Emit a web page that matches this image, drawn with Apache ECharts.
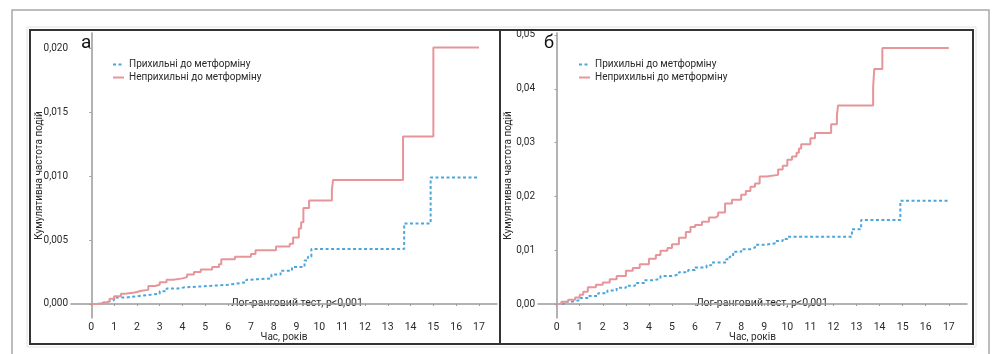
<!DOCTYPE html>
<html><head><meta charset="utf-8">
<script src="https://cdn.jsdelivr.net/npm/echarts@6/dist/echarts.min.js"></script>
<style>html,body{margin:0;padding:0;background:#fff}#c{width:999px;height:354px}</style>
</head><body><div id="c"></div>
<script>
// ---- data ----
const xTicks = [0,1,2,3,4,5,6,7,8,9,10,11,12,13,14,15,16,17];
const yTicksA = [0,0.005,0.010,0.015,0.020];
const yTicksB = [0,0.01,0.02,0.03,0.04,0.05];
const seriesNames = ['Прихильні до метформіну','Неприхильні до метформіну'];
const aAdherent = [[0,0],[0.3,0.0001],[0.5,0.0002],[0.8,0.0003],[1.0,0.0005],[1.5,0.0006],[2.0,0.0007],[2.5,0.0008],[3.0,0.001],[3.3,0.0012],[3.8,0.0013],[4.1,0.0014],[5.1,0.0015],[6.0,0.0016],[6.4,0.0017],[6.8,0.0019],[7.0,0.002],[7.9,0.0023],[8.3,0.0026],[8.8,0.0029],[9.35,0.0034],[9.5,0.0037],[9.65,0.0043],[13.72,0.0063],[14.88,0.0099],[17,0.0099]];
const aNonAdherent = [[0,0],[0.3,0.0001],[0.6,0.0002],[0.8,0.0004],[1.0,0.0006],[1.3,0.0008],[1.5,0.0009],[1.9,0.00103],[2.2,0.0011],[2.5,0.0014],[2.8,0.0015],[3.0,0.0017],[3.3,0.0019],[3.6,0.002],[4.0,0.0021],[4.2,0.0023],[4.5,0.0025],[4.8,0.0027],[5.3,0.0029],[5.6,0.0031],[5.7,0.0035],[6.3,0.0037],[7.0,0.0039],[7.2,0.0042],[8.1,0.0045],[8.7,0.0047],[8.85,0.0052],[9.1,0.0059],[9.2,0.0064],[9.3,0.0075],[9.55,0.0081],[10.55,0.0089],[10.6,0.0097],[13.67,0.0131],[15.0,0.02006],[17,0.02006]];
const bAdherent = [[0,0],[0.3,0.0004],[0.6,0.0007],[1.0,0.0011],[1.4,0.0015],[1.8,0.002],[2.2,0.0025],[2.6,0.003],[3.0,0.0034],[3.4,0.0039],[3.8,0.0044],[4.2,0.0047],[4.5,0.0052],[5.0,0.0055],[5.3,0.0059],[5.7,0.0063],[6.0,0.0068],[6.5,0.0072],[6.7,0.0077],[7.35,0.0083],[7.5,0.0088],[7.65,0.0097],[8.0,0.0102],[8.4,0.0105],[8.6,0.011],[9.0,0.0113],[9.5,0.0117],[9.8,0.0121],[10.0,0.0125],[12.8,0.0139],[13.2,0.0156],[14.9,0.0192],[17,0.0192]];
const bNonAdherent = [[0,0],[0.2,0.0004],[0.5,0.0008],[0.8,0.0012],[1.0,0.0017],[1.15,0.0023],[1.35,0.0031],[1.7,0.0036],[2.0,0.004],[2.3,0.0046],[2.6,0.0052],[3.0,0.0062],[3.3,0.0067],[3.6,0.0074],[4.0,0.0084],[4.3,0.0091],[4.5,0.0099],[4.8,0.0104],[5.0,0.0111],[5.3,0.0123],[5.6,0.0134],[5.8,0.0143],[6.0,0.0147],[6.3,0.0153],[6.6,0.0161],[6.9,0.0164],[7.0,0.017],[7.3,0.0187],[7.6,0.0194],[8.0,0.0203],[8.2,0.021],[8.4,0.0218],[8.6,0.0224],[8.8,0.0237],[9.1,0.024],[9.6,0.025],[9.8,0.0257],[10.0,0.0268],[10.2,0.0274],[10.4,0.0281],[10.5,0.0289],[10.6,0.0297],[11.0,0.0308],[11.2,0.0318],[11.9,0.0334],[12.15,0.0351],[12.2,0.0369],[13.72,0.0403],[13.77,0.0437],[14.12,0.0476],[17,0.0476]];

const FONT = "Roboto, 'Noto Sans', sans-serif";
const FS = 10;
const BLUE = '#4ba6dc', RED = '#e8959a', AX = '#9a9a9a', TXT = '#2a2a2a';
const fmt = (d) => (v) => v.toFixed(d).replace('.', ',');

function xAxis(gi){
  return {type:'value', gridIndex:gi, min: gi===0?-0.89:-0.81, max:17.79,
    axisLine:{show:true,lineStyle:{color:AX,width:1.5}},
    axisTick:{show:true,customValues:xTicks,length:2,lineStyle:{color:AX}},
    axisLabel:{customValues:xTicks,margin:4,fontSize:FS+0.5,color:TXT,fontFamily:FONT},
    splitLine:{show:false},
    name:'Час, років', nameLocation:'middle', nameGap:14, nameMoveOverlap:false,
    nameTextStyle:{fontSize:FS,color:TXT,fontFamily:FONT}};
}
function yAxis(gi){
  const ticks = gi===0?yTicksA:yTicksB;
  return {type:'value', gridIndex:gi, min: gi===0?-0.0011:-0.0026, max: gi===0?0.0212:0.05037,
    axisLine:{show:true,lineStyle:{color:AX,width:1.5}},
    axisTick:{show:true,customValues:ticks,length:2,lineStyle:{color:AX}},
    axisLabel:{customValues:ticks,margin:3,fontSize:FS,color:TXT,fontFamily:FONT,formatter:fmt(gi===0?3:2)},
    splitLine:{show:false},
    name:'Кумулятивна частота подій', nameLocation:'middle', nameGap: gi===0?27:25, nameRotate:90, nameMoveOverlap:false,
    nameTextStyle:{fontSize:FS,color:TXT,fontFamily:FONT}};
}
function ser(name, data, gi){
  const blue = name===seriesNames[0];
  return {name, type:'line', step:'end', xAxisIndex:gi, yAxisIndex:gi, data,
    symbol:'none', showSymbol:false, animation:false,
    lineStyle:{color: blue?BLUE:RED, width:2, type: blue?[3,2.5]:'solid'},
    itemStyle:{color: blue?BLUE:RED}};
}
function legend(left){
  return {left, top:54, orient:'vertical', itemWidth:11, itemHeight:8, itemGap:2,
    itemStyle:{opacity:0},
    data:seriesNames, textStyle:{fontSize:FS,lineHeight:11,color:TXT,fontFamily:FONT}};
}

const chart = echarts.init(document.getElementById('c'));
chart.setOption({
  animation:false,
  grid:[{left:71,right:502,top:33,bottom:36},{left:538,right:32,top:33,bottom:36}],
  xAxis:[xAxis(0),xAxis(1)],
  yAxis:[yAxis(0),yAxis(1)],
  legend:[legend(107),legend(573)],
  series:[ser(seriesNames[0],aAdherent,0),ser(seriesNames[1],aNonAdherent,0),
          ser(seriesNames[0],bAdherent,1),ser(seriesNames[1],bNonAdherent,1)],
  graphic:[
    {type:'rect',shape:{x:12,y:10,width:977,height:360},style:{fill:'none',stroke:'#a8a8a8',lineWidth:1.5},silent:true},
    {type:'rect',shape:{x:27,y:27,width:949,height:320},style:{fill:'none',stroke:'#e2e2e2',lineWidth:1},silent:true},
    {type:'rect',shape:{x:30,y:30,width:943,height:314},style:{fill:'none',stroke:'#333',lineWidth:2},silent:true},
    {type:'line',shape:{x1:500,y1:30,x2:500,y2:344},style:{stroke:'#333',lineWidth:2},silent:true},
    {type:'text',left:81,top:34,style:{text:'а',fontSize:19,fill:'#111',fontFamily:FONT}},
    {type:'text',left:544,top:34,style:{text:'б',fontSize:18,fill:'#111',fontFamily:FONT}},
    {type:'text',x:297,y:303,style:{text:'Лог-ранговий тест, p<0,001',fontSize:FS+0.5,fill:TXT,fontFamily:FONT,align:'center',verticalAlign:'middle'}},
    {type:'text',x:762,y:303,style:{text:'Лог-ранговий тест, p<0,001',fontSize:FS+0.5,fill:TXT,fontFamily:FONT,align:'center',verticalAlign:'middle'}}
  ]
});
</script></body></html>
